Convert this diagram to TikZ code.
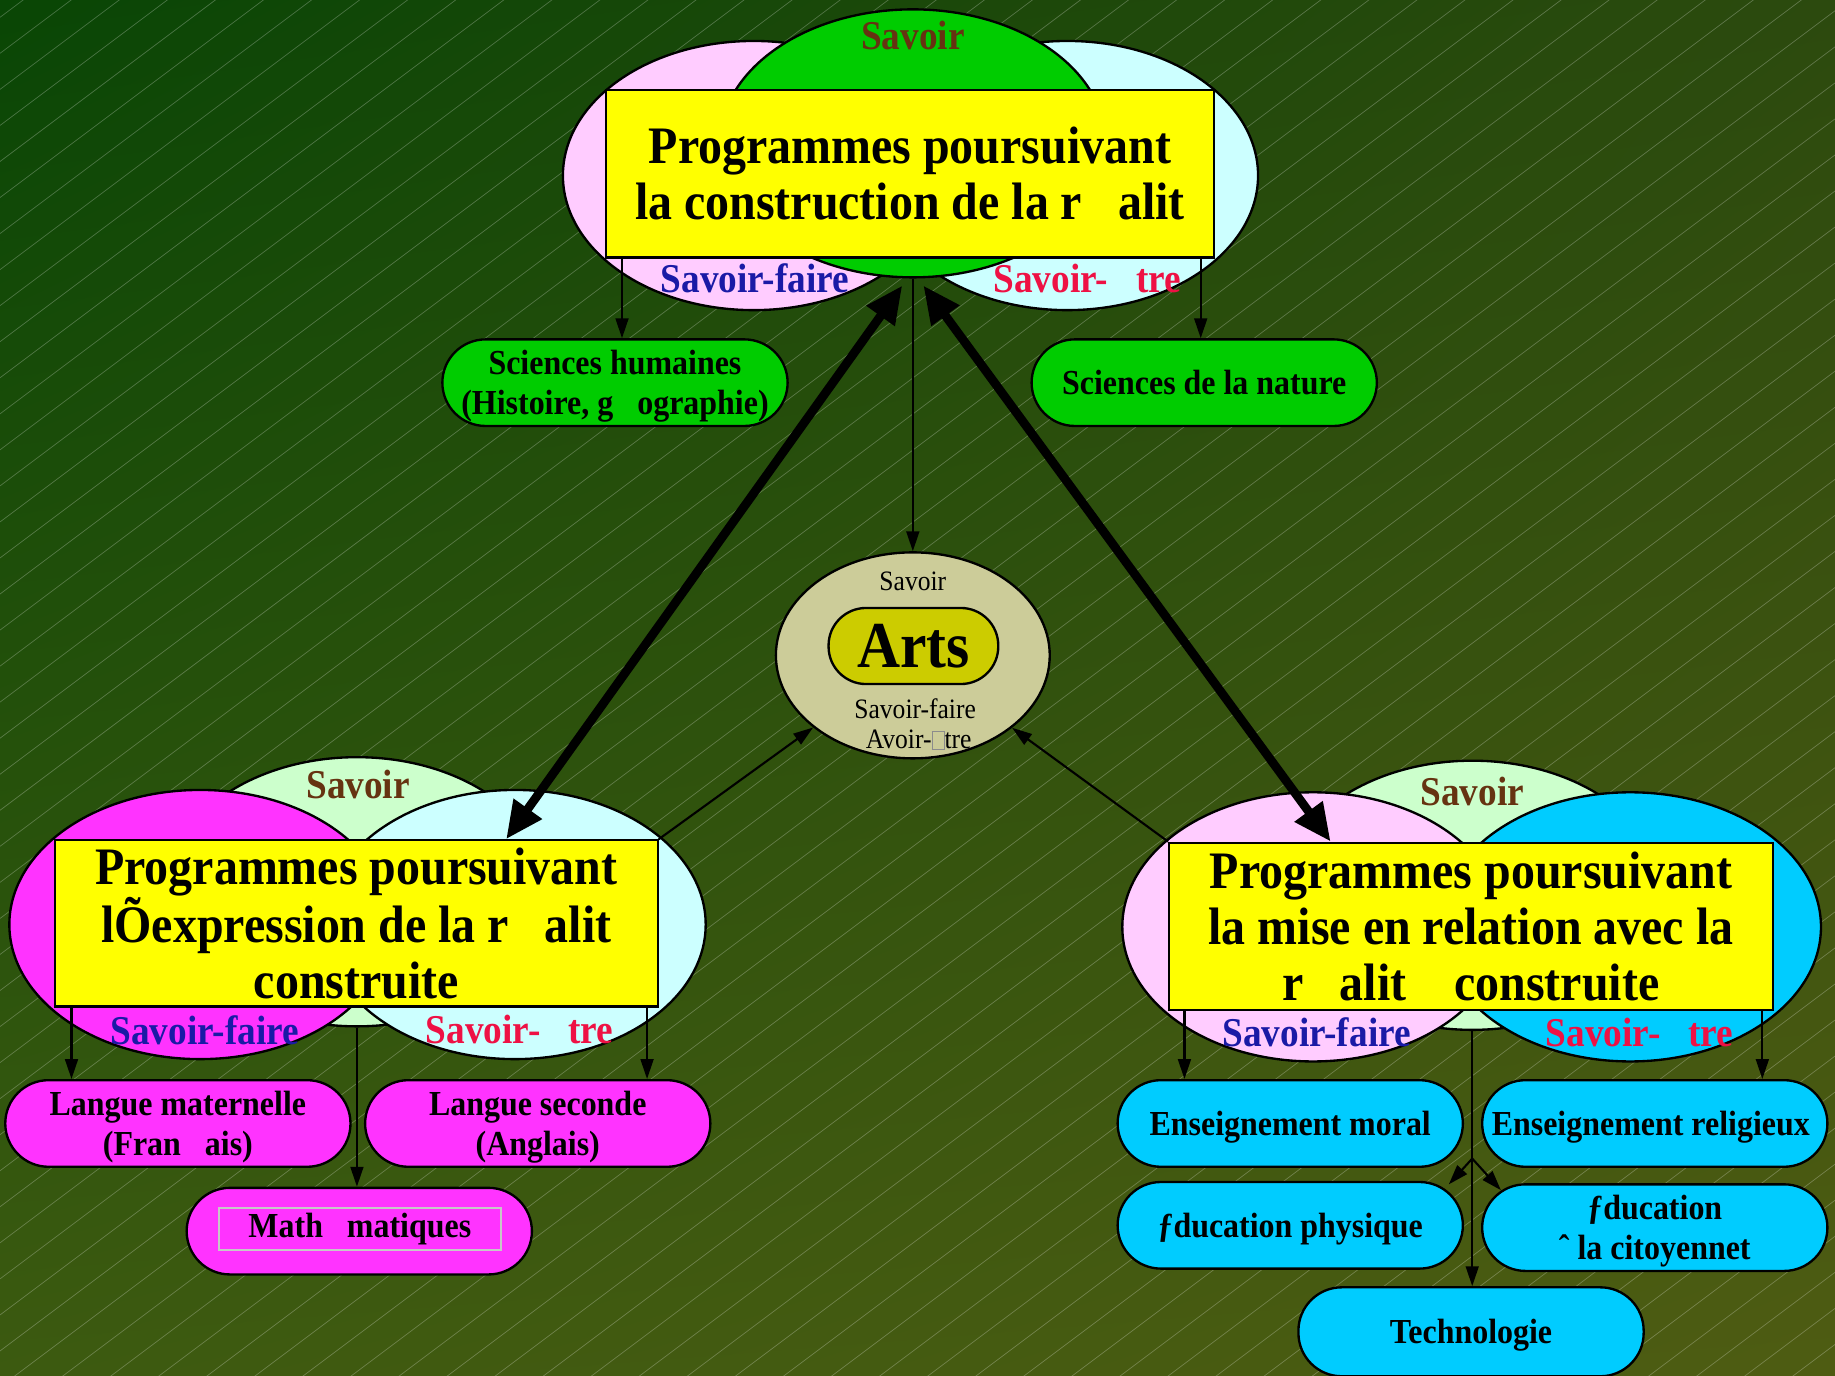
\documentclass[tikz,border=0pt]{standalone}
\usepackage{fontspec}
\setmainfont{Liberation Serif}[FakeStretch=0.91]
\usetikzlibrary{arrows.meta,shapes.geometric,calc,shadings}
\definecolor{vpink}{HTML}{FFCCFF}
\definecolor{vcyanl}{HTML}{CCFFFF}
\definecolor{vgreen}{HTML}{00CC00}
\definecolor{vlgreen}{HTML}{CCFFCC}
\definecolor{vmag}{HTML}{FF33FF}
\definecolor{vcyan}{HTML}{00CCFF}
\definecolor{vyellow}{HTML}{FFFF00}
\definecolor{artsbg}{HTML}{CCCC99}
\definecolor{artsin}{HTML}{CCCC00}
\definecolor{cbrown}{HTML}{663311}
\definecolor{cblue}{HTML}{1A1AA6}
\definecolor{cred}{HTML}{EE1144}
\definecolor{bgUL}{HTML}{094605}
\definecolor{bgUR}{HTML}{2C4A0E}
\definecolor{bgLL}{HTML}{3C5A10}
\definecolor{bgLR}{HTML}{4E5C12}
\begin{document}
\begin{tikzpicture}[x=1pt,y=-1pt,
  venn/.style={ellipse, draw=black, line width=2pt, inner sep=0pt, minimum width=326pt, minimum height=230pt},
  pbox/.style={rectangle, draw=black, fill=vyellow, line width=1.8pt, minimum width=516pt, minimum height=143pt, align=center, inner sep=0pt, font=\fontsize{45}{48}\selectfont\bfseries},
  leaf/.style={rectangle, rounded corners=37pt, draw=black, line width=2pt, minimum width=295pt, minimum height=74pt, align=center, inner sep=0pt, text depth=0pt, font=\fontsize{30}{34}\selectfont\bfseries},
  lab/.style={inner sep=0pt, font=\fontsize{35}{38}\selectfont\bfseries},
  conn/.style={line width=1.8pt, -{Triangle[length=17pt,width=11pt]}},
  bigarrow/.style={line width=7.5pt, {Triangle[length=32pt,width=28pt]}-{Triangle[length=32pt,width=28pt]}}
]
\useasboundingbox (0,0) rectangle (1568,1175);
\shade[upper left=bgUL, upper right=bgUR, lower left=bgLL, lower right=bgLR] (0,0) rectangle (1568,1175);
\begin{scope}
\clip (0,0) rectangle (1568,1175);
\foreach \k in {-2,...,78}
  \draw[white, opacity=0.25, line width=0.6pt] (0,{45.6+30.8*\k}) -- (1568,{45.6+30.8*\k-1176});
\end{scope}

% ---------- top group
\node[venn, fill=vpink] (tpink) at (644,150) {};
\node[venn, fill=vcyanl] (tcyan) at (912,150) {};
\node[venn, fill=vgreen, minimum width=330pt, minimum height=229pt] (tsav) at (780,122.5) {};
\node[pbox, minimum width=519pt] (tbox) at (777.5,148.5) {Programmes poursuivant\\la construction de la r~~~alit};
\node[lab, text=cbrown] (tsavl) at (780,30) {Savoir};
\node[lab, text=cblue] (tsf) at (645,238) {Savoir-faire};
\node[lab, text=cred] (tse) at (929,238) {Savoir-~~~tre};

\node[leaf, fill=vgreen] (shum) at (525.5,327) {Sciences humaines\\(Histoire, g~~~ographie)};
\node[leaf, fill=vgreen] (snat) at (1029,327) {Sciences de la nature};

% ---------- left group
\node[venn, fill=vlgreen] (lsav) at (305,762) {};
\node[venn, fill=vmag] (lmag) at (171,790) {};
\node[venn, fill=vcyanl] (lcyan) at (440,790) {};
\node[pbox, minimum width=515pt, minimum height=142pt] (lbox) at (304.5,789) {Programmes poursuivant~\\lÕexpression de la r~~~alit\\construite};
\node[lab, text=cbrown] (lsavl) at (306,670) {Savoir};
\node[lab, text=cblue] (lsf) at (175,880) {Savoir-faire};
\node[lab, text=cred] (lse) at (444,880) {Savoir-~~~tre};

\node[leaf, fill=vmag] (lmat) at (152,960) {Langue maternelle\\(Fran~~~ais)};
\node[leaf, fill=vmag] (lsec) at (459.5,960) {Langue seconde\\(Anglais)};
\node[leaf, fill=vmag] (math) at (307,1052) {};
\node[rectangle, draw=black!22, line width=1.3pt, minimum width=241pt, minimum height=36pt, inner sep=0pt, font=\fontsize{30}{34}\selectfont\bfseries] (mathin) at (307.5,1050) {Math~~~matiques};

% ---------- right group
\node[venn, fill=vlgreen] (rsav) at (1258,765) {};
\node[venn, fill=vpink] (rpink) at (1122,792) {};
\node[venn, fill=vcyan] (rcyan) at (1393,792) {};
\node[pbox] (rbox) at (1257,791.5) {Programmes poursuivant\\la mise en relation avec la\\r~~~alit~~~~construite};
\node[lab, text=cbrown] (rsavl) at (1258,676) {Savoir};
\node[lab, text=cblue] (rsf) at (1125,882) {Savoir-faire};
\node[lab, text=cred] (rse) at (1401,882) {Savoir-~~~tre};

\node[leaf, fill=vcyan] (emor) at (1102.5,960) {Enseignement moral};
\node[leaf, fill=vcyan] (erel) at (1414,960) {Enseignement religieux~};
\node[leaf, fill=vcyan] (ephy) at (1102.5,1047) {ƒducation physique};
\node[leaf, fill=vcyan] (ecit) at (1414,1049) {ƒducation\\ˆ la citoyennet};
\node[leaf, fill=vcyan, minimum height=76pt] (tech) at (1257,1138) {Technologie};

% ---------- Arts
\node[ellipse, draw=black, line width=2pt, fill=artsbg, minimum width=234pt, minimum height=176pt, inner sep=0pt] (arts) at (780,560) {};
\node[rectangle, rounded corners=32pt, draw=black, line width=2pt, fill=artsin, minimum width=145pt, minimum height=65pt, inner sep=0pt, font=\fontsize{56}{60}\selectfont\bfseries] (artsin) at (780.5,552) {Arts};
\node[inner sep=0pt, font=\fontsize{24}{26}\selectfont] (asav) at (780,497) {Savoir};
\node[inner sep=0pt, font=\fontsize{24}{26}\selectfont] (asf) at (782,606) {Savoir-faire};
\node[inner sep=0pt, font=\fontsize{24}{26}\selectfont] (aae) at (785,632) {Avoir-{\fboxsep=0pt\fboxrule=0.5pt\color{black!45}\fbox{\rule{0pt}{0.62em}\hspace{0.42em}}}tre};

% ---------- connectors
\coordinate (c1) at ([xshift=6pt]shum.north);
\draw[conn] (c1 |- tbox.south) -- (c1);
\coordinate (c2) at ([xshift=-3pt]snat.north);
\draw[conn] (c2 |- tbox.south) -- (c2);
\draw[conn] (tsav.south) -- (arts.north);

\coordinate (c3) at ([xshift=15pt]lbox.south west);
\draw[conn] (c3) -- (c3 |- lmat.north);
\coordinate (c4) at ([xshift=-10pt]lbox.south east);
\draw[conn] (c4) -- (c4 |- lsec.north);
\draw[conn] (lsav.south) -- (lsav.south |- math.north);

\coordinate (c5) at ([xshift=14pt]rbox.south west);
\draw[conn] (c5) -- (c5 |- emor.north);
\coordinate (c6) at ([xshift=-10pt]rbox.south east);
\draw[conn] (c6) -- (c6 |- erel.north);
\draw[conn] (rsav.south) -- (rsav.south |- tech.north);
\coordinate (br) at (1258,990);
\coordinate (bp1) at ([xshift=-13pt,yshift=-3pt]ephy.north east);
\coordinate (bp2) at ([xshift=17pt,yshift=-6pt]ecit.north west);
\draw[conn] (br) -- (bp1);
\draw[conn] (br) -- (bp2);

\draw[conn] (lbox.north east) -- (arts);
\draw[conn] (rbox.north west) -- (arts);

\coordinate (t1) at ([xshift=-9pt,yshift=-6pt]tsav.south);
\coordinate (t2) at ([xshift=9pt,yshift=-6pt]tsav.south);
\coordinate (b1) at ([xshift=128pt]lbox.north);
\coordinate (b2) at ([xshift=-120pt]rbox.north);
\draw[bigarrow] (t1) -- (b1);
\draw[bigarrow] (t2) -- (b2);
\end{tikzpicture}
\end{document}
